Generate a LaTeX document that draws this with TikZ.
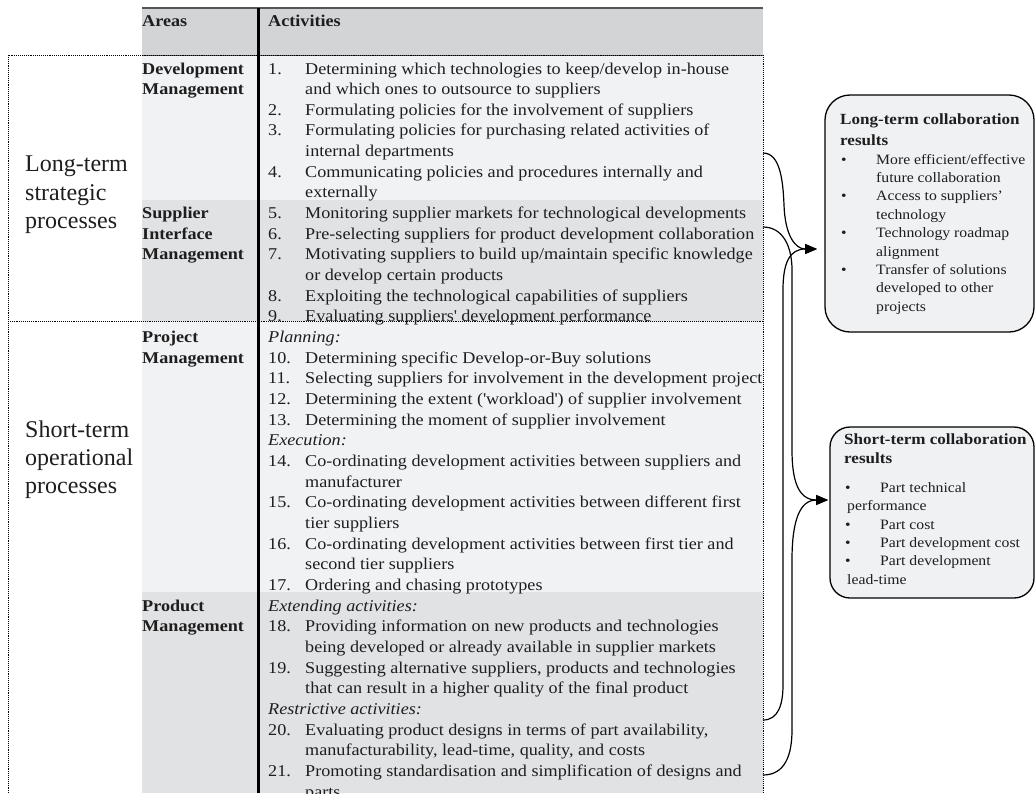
\documentclass[tikz,border=0pt]{standalone}
\usepackage{fontspec}
\setmainfont{Liberation Serif}[FakeStretch=1.1]
\newfontfamily\plainserif{Liberation Serif}
\usetikzlibrary{arrows.meta}

\definecolor{rowlight}{HTML}{F1F2F4}
\definecolor{rowdark}{HTML}{E1E2E4}
\definecolor{headfill}{HTML}{D3D4D6}
\definecolor{boxfill}{HTML}{F0F1F3}
\definecolor{ink}{HTML}{1E1E1E}
\definecolor{rulegray}{HTML}{555555}

\newcommand\tabfont{\fontsize{16.5}{20}\selectfont}
\newcommand\resfont{\fontsize{14.3}{18}\selectfont}
\newcommand\restitlefont{\fontsize{15.5}{19}\selectfont\bfseries}
\newcommand\sidefont{\plainserif\fontsize{24}{29}\selectfont}

% baseline of table line number #1
\newcommand\rowy[1]{74+20.66*#1}

\newcommand\actrow[3]{%
  \node[tabtext] (num#1) at (268,{\rowy{#1}}) {#2};
  \node[tabtext] (act#1) at (305,{\rowy{#1}}) {#3};}
\newcommand\actcont[2]{\node[tabtext] (act#1) at (305,{\rowy{#1}}) {#2};}
\newcommand\actsub[2]{\node[tabtext,font=\tabfont\itshape] (sub#1) at (268,{\rowy{#1}}) {#2};}
\newcommand\areaname[2]{\node[tabtext,font=\tabfont\bfseries] (area#1) at (142,{\rowy{#1}}) {#2};}

\begin{document}
\begin{tikzpicture}[x=1pt,y=-1pt,
  tabtext/.style={anchor=base west, inner sep=0pt, font=\tabfont, text=ink},
  restext/.style={anchor=base west, inner sep=0pt, font=\resfont, text=ink},
  restitle/.style={anchor=base west, inner sep=0pt, font=\restitlefont, text=ink},
  resbullet/.style={anchor=base west, inner sep=0pt, font=\resfont, text=ink},
  sidetext/.style={anchor=base west, inner sep=0pt, font=\sidefont, text=ink},
  resbox/.style={draw=black, line width=1.3pt, fill=boxfill, inner sep=0pt},
  procframe/.style={line width=0.9pt, dash pattern=on 0.8pt off 1.1pt},
  link/.style={line width=1.2pt, -{Triangle[length=12pt,width=10pt]}}]

\useasboundingbox (0,0) rectangle (1035,793);

% table background
\fill[headfill] (142,8) rectangle (763,55);
\fill[rowlight] (142,55) rectangle (763,200);
\fill[rowdark]  (142,200) rectangle (763,321);
\fill[rowlight] (142,321) rectangle (763,592);
\fill[rowdark]  (142,592) rectangle (763,793);

% table rules
\draw[rulegray, line width=1.5pt] (142,8) -- (763,8);
\draw[rulegray, line width=0.8pt] (142,55) -- (763,55);

% process frames
\draw[procframe] (8,55) rectangle (763,321);
\draw[procframe] (8,321) -- (8,800) (763,321) -- (763,800);

% column divider
\draw[black, line width=3pt] (258,8) -- (258,793);

% header
\node[tabtext,font=\tabfont\bfseries] (hareas) at (142,26) {Areas};
\node[tabtext,font=\tabfont\bfseries] (hacts) at (268,26) {Activities};

% areas
\areaname{0}{Development}
\areaname{1}{Management}
\areaname{7}{Supplier}
\areaname{8}{Interface}
\areaname{9}{Management}
\areaname{13}{Project}
\areaname{14}{Management}
\areaname{26}{Product}
\areaname{27}{Management}

% activities
\actrow{0}{1.}{Determining which technologies to keep/develop in-house}
\actcont{1}{and which ones to outsource to suppliers}
\actrow{2}{2.}{Formulating policies for the involvement of suppliers}
\actrow{3}{3.}{Formulating policies for purchasing related activities of}
\actcont{4}{internal departments}
\actrow{5}{4.}{Communicating policies and procedures internally and}
\actcont{6}{externally}
\actrow{7}{5.}{Monitoring supplier markets for technological developments}
\actrow{8}{6.}{Pre-selecting suppliers for product development collaboration}
\actrow{9}{7.}{Motivating suppliers to build up/maintain specific knowledge}
\actcont{10}{or develop certain products}
\actrow{11}{8.}{Exploiting the technological capabilities of suppliers}
\actrow{12}{9.}{Evaluating suppliers\textquotesingle{} development performance}
\actsub{13}{Planning:}
\actrow{14}{10.}{Determining specific Develop-or-Buy solutions}
\actrow{15}{11.}{Selecting suppliers for involvement in the development project}
\actrow{16}{12.}{Determining the extent (\textquotesingle workload\textquotesingle) of supplier involvement}
\actrow{17}{13.}{Determining the moment of supplier involvement}
\actsub{18}{Execution:}
\actrow{19}{14.}{Co-ordinating development activities between suppliers and}
\actcont{20}{manufacturer}
\actrow{21}{15.}{Co-ordinating development activities between different first}
\actcont{22}{tier suppliers}
\actrow{23}{16.}{Co-ordinating development activities between first tier and}
\actcont{24}{second tier suppliers}
\actrow{25}{17.}{Ordering and chasing prototypes}
\actsub{26}{Extending activities:}
\actrow{27}{18.}{Providing information on new products and technologies}
\actcont{28}{being developed or already available in supplier markets}
\actrow{29}{19.}{Suggesting alternative suppliers, products and technologies}
\actcont{30}{that can result in a higher quality of the final product}
\actsub{31}{Restrictive activities:}
\actrow{32}{20.}{Evaluating product designs in terms of part availability,}
\actcont{33}{manufacturability, lead-time, quality, and costs}
\actrow{34}{21.}{Promoting standardisation and simplification of designs and}
\actcont{35}{parts}

% process labels
\node[sidetext] (ls1) at (25,171) {Long-term};
\node[sidetext] (ls2) at (25,200) {strategic};
\node[sidetext] (ls3) at (25,228) {processes};
\node[sidetext] (ss1) at (25,437) {Short-term};
\node[sidetext] (ss2) at (25,465) {operational};
\node[sidetext] (ss3) at (25,493) {processes};

% result boxes
\node[resbox, rounded corners=25pt, minimum width=209pt, minimum height=237pt] (lt) at (929.5,213.5) {};
\node[resbox, rounded corners=20pt, minimum width=204pt, minimum height=171pt] (st) at (932,512.5) {};

\node[restitle] (ltt1) at (840,124) {Long-term collaboration};
\node[restitle] (ltt2) at (840,145) {results};
\node[resbullet] (ltb1) at (841,164) {•};
\node[restext] (ltl1) at (876,164) {More efficient/effective};
\node[restext] (ltl2) at (876,182.4) {future collaboration};
\node[resbullet] (ltb2) at (841,200.8) {•};
\node[restext] (ltl3) at (876,200.8) {Access to suppliers’};
\node[restext] (ltl4) at (876,219.2) {technology};
\node[resbullet] (ltb3) at (841,237.6) {•};
\node[restext] (ltl5) at (876,237.6) {Technology roadmap};
\node[restext] (ltl6) at (876,256) {alignment};
\node[resbullet] (ltb4) at (841,274.4) {•};
\node[restext] (ltl7) at (876,274.4) {Transfer of solutions};
\node[restext] (ltl8) at (876,292.8) {developed to other};
\node[restext] (ltl9) at (876,311.2) {projects};

\node[restitle] (stt1) at (844,444) {Short-term collaboration};
\node[restitle] (stt2) at (844,463) {results};
\node[resbullet] (stb1) at (845,492.3) {•};
\node[restext] (stl1) at (880,492.3) {Part technical};
\node[restext] (stl2) at (847,510.7) {performance};
\node[resbullet] (stb2) at (845,529.1) {•};
\node[restext] (stl3) at (880,529.1) {Part cost};
\node[resbullet] (stb3) at (845,547.5) {•};
\node[restext] (stl4) at (880,547.5) {Part development cost};
\node[resbullet] (stb4) at (845,565.9) {•};
\node[restext] (stl5) at (880,565.9) {Part development};
\node[restext] (stl6) at (847,584.3) {lead-time};

% connector ends
\coordinate (o4) at (763,153);
\coordinate (o6) at (763,227);
\coordinate (o20) at (763,720);
\coordinate (o21) at (763,775);
\coordinate (ltin) at (817,249);
\coordinate (stin) at (828,500);

% connectors
\draw[link] (o4) .. controls (780,153) and (783,180) .. (784,205)
  .. controls (785,235) and (795,249) .. (ltin);
\draw[link] (o6) .. controls (782,227) and (792,245) .. (792,270)
  -- (792,450) .. controls (792,480) and (798,500) .. (stin);
\draw[link] (o20) .. controls (778,720) and (783,705) .. (783,685)
  -- (783,290) .. controls (783,262) and (790,249) .. (ltin);
\draw[link] (o21) .. controls (785,775) and (792,755) .. (792,730)
  -- (792,560) .. controls (792,520) and (800,500) .. (stin);

\end{tikzpicture}
\end{document}
